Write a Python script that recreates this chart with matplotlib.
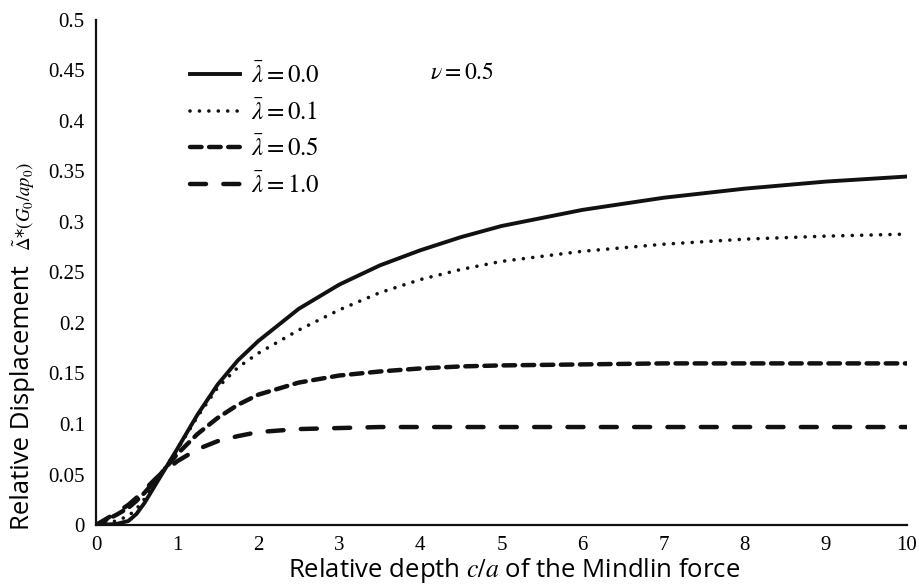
import matplotlib
matplotlib.use('Agg')
import matplotlib.pyplot as plt

plt.rcParams['mathtext.fontset'] = 'stix'

# Data
x0 = [0, 0.25, 0.4, 0.5, 0.6, 0.75, 1.0, 1.25, 1.5, 1.75, 2.0, 2.5, 3.0, 3.5,
      4.0, 4.5, 5.0, 6.0, 7.0, 8.0, 9.0, 10.0]
lam00 = [0, 0.001, 0.004, 0.011, 0.022, 0.042, 0.075, 0.109, 0.139, 0.163, 0.182,
         0.214, 0.238, 0.257, 0.272, 0.285, 0.296, 0.312, 0.324, 0.333, 0.340, 0.345]
lam01 = [0, 0.004, 0.009, 0.016, 0.026, 0.045, 0.074, 0.107, 0.136, 0.156, 0.170,
         0.193, 0.213, 0.230, 0.243, 0.253, 0.261, 0.271, 0.278, 0.283, 0.286, 0.288]
lam05 = [0, 0.010, 0.017, 0.024, 0.032, 0.046, 0.070, 0.090, 0.106, 0.119, 0.129,
         0.141, 0.148, 0.152, 0.155, 0.157, 0.158, 0.159, 0.160, 0.160, 0.160, 0.160]
lam10 = [0, 0.012, 0.020, 0.027, 0.035, 0.047, 0.063, 0.075, 0.083, 0.088, 0.092,
         0.095, 0.096, 0.097, 0.097, 0.097, 0.097, 0.097, 0.097, 0.097, 0.097, 0.097]
labels = [r'$\bar{\lambda}=0.0$', r'$\bar{\lambda}=0.1$', r'$\bar{\lambda}=0.5$', r'$\bar{\lambda}=1.0$']

yticks = [0, 0.05, 0.1, 0.15, 0.2, 0.25, 0.3, 0.35, 0.4, 0.45, 0.5]
ytick_labels = ['0', '0.05', '0.1', '0.15', '0.2', '0.25', '0.3', '0.35', '0.4', '0.45', '0.5']
xticks = list(range(0, 11))

fig = plt.figure(figsize=(9.2, 5.87), dpi=100)
ax = fig.add_axes([0.1043, 0.1056, 0.8815, 0.8604])

ax.plot(x0, lam00, color='#111111', lw=2.8, label=labels[0])
ax.plot(x0, lam01, color='#111111', lw=2.6, linestyle=(0, (0.01, 2.6)),
        dash_capstyle='round', label=labels[1])
ax.plot(x0, lam05, color='#111111', lw=3.2, linestyle=(0, (2.6, 1.7)),
        dash_capstyle='round', label=labels[2])
ax.plot(x0, lam10, color='#111111', lw=3.2, linestyle=(0, (3.6, 3.9)),
        dash_capstyle='round', label=labels[3])

ax.set_xlim(0, 10)
ax.set_ylim(0, 0.5)
ax.set_xticks(xticks)
ax.set_xticklabels([str(v) for v in xticks], fontfamily='Liberation Serif', fontsize=15)
ax.set_yticks(yticks)
ax.set_yticklabels(ytick_labels, fontfamily='Liberation Serif', fontsize=15)
ax.tick_params(length=0, pad=8)

for s in ['top', 'right']:
    ax.spines[s].set_visible(False)
for s in ['left', 'bottom']:
    ax.spines[s].set_linewidth(1.6)
    ax.spines[s].set_color('#111111')

# axis titles
fig.text(0.559, 0.028, r'Relative depth $c/a$ of the Mindlin force', fontfamily='Open Sans',
         fontsize=18.5, ha='center', va='center')
fig.text(0.024, 0.322, 'Relative Displacement', fontfamily='Open Sans',
         fontsize=18.5, rotation=90, ha='center', va='center')
fig.text(0.026, 0.648, r'$\tilde{\mathit{\Delta}}$*$(G_0/ap_0)$',
         fontsize=13.5, rotation=90, ha='center', va='center')

leg = ax.legend(loc='upper left', bbox_to_anchor=(0.116, 0.915), frameon=False,
                fontsize=18, handlelength=2.0, handletextpad=0.45, labelspacing=0.45,
                borderpad=0, borderaxespad=0)

ax.text(0.412, 0.897, r'$\nu=0.5$', transform=ax.transAxes, fontsize=17, va='center')

fig.savefig('out.png', dpi=100)
